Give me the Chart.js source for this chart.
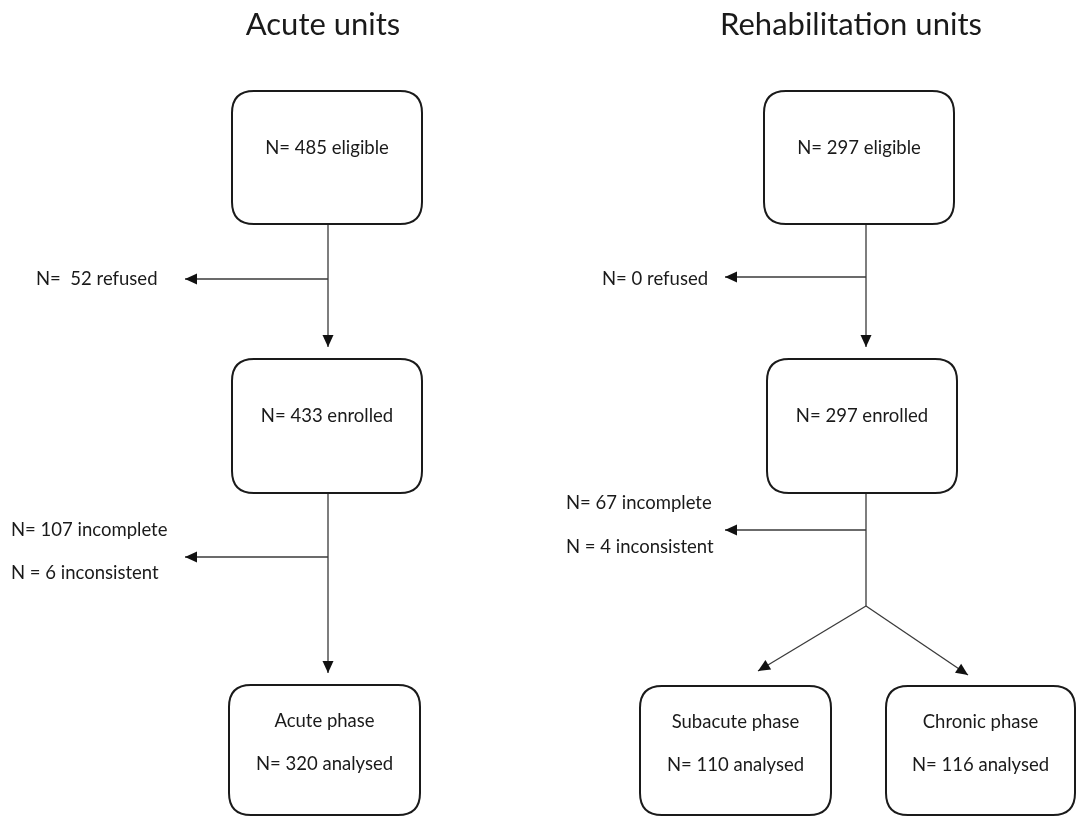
<!DOCTYPE html>
<html>
<head>
<meta charset="utf-8">
<script src="https://cdn.jsdelivr.net/npm/chart.js@4.4.1/dist/chart.umd.min.js"></script>
<style>
  body { margin: 0; background: #fff; }
  canvas { display: block; }
</style>
</head>
<body>
<canvas id="flow" width="1091" height="817"></canvas>
<script>
// column titles
const titles = ['Acute units', 'Rehabilitation units'];
const titleX = [323, 851];
const titleY = [25, 25];

// boxes of the flow chart (diagram units = pixels of the reference)
const boxLabels = [
  ['N= 485 eligible'],
  ['N= 433 enrolled'],
  ['Acute phase', 'N= 320 analysed'],
  ['N= 297 eligible'],
  ['N= 297 enrolled'],
  ['Subacute phase', 'N= 110 analysed'],
  ['Chronic phase', 'N= 116 analysed']
];
const boxLeft   = [232, 232, 229, 764, 767, 640, 886];
const boxRight  = [422, 422, 420, 954, 957, 831, 1075];
const boxTop    = [91, 359, 685, 91, 359, 686, 686];
const boxBottom = [224, 493, 815, 224, 493, 815, 815];

// connectors: start and end point, and whether the end has an arrow head
const linkX1 = [328, 328, 328, 328, 866, 866, 866, 866, 866, 866];
const linkY1 = [224, 279, 493, 557, 224, 277, 493, 530, 606, 606];
const linkX2 = [328, 185, 328, 185, 866, 725, 866, 725, 758, 968];
const linkY2 = [347, 279, 673, 557, 347, 277, 606, 530, 671, 675];
const linkArrow = [true, true, true, true, true, true, false, true, true, true];

// side notes for excluded people
const noteText = ['N=  52 refused', 'N= 107 incomplete', 'N = 6 inconsistent',
                  'N= 0 refused', 'N= 67 incomplete', 'N = 4 inconsistent'];
const noteX = [36, 11, 11, 602, 566, 566];
const noteY = [279, 530, 573, 279, 503, 547];

const FONT = 'Lato, "Open Sans", sans-serif';
const ink = '#1a1a1a';

const datasets = linkX1.map((x, i) => ({
  data: [{ x: x, y: linkY1[i] }, { x: linkX2[i], y: linkY2[i] }],
  showLine: true,
  borderColor: '#3a3a3a',
  borderWidth: 1.3,
  pointRadius: 0,
  pointHoverRadius: 0
}));

function roundRect(ctx, x, y, w, h, r) {
  ctx.beginPath();
  ctx.moveTo(x + r, y);
  ctx.lineTo(x + w - r, y);
  ctx.quadraticCurveTo(x + w, y, x + w, y + r);
  ctx.lineTo(x + w, y + h - r);
  ctx.quadraticCurveTo(x + w, y + h, x + w - r, y + h);
  ctx.lineTo(x + r, y + h);
  ctx.quadraticCurveTo(x, y + h, x, y + h - r);
  ctx.lineTo(x, y + r);
  ctx.quadraticCurveTo(x, y, x + r, y);
  ctx.closePath();
}

const flowPlugin = {
  id: 'flowPlugin',
  afterDatasetsDraw(chart) {
    const ctx = chart.ctx;
    const sx = chart.scales.x, sy = chart.scales.y;
    ctx.save();

    // arrow heads
    ctx.fillStyle = '#111';
    linkX1.forEach((x, i) => {
      if (!linkArrow[i]) return;
      const px1 = sx.getPixelForValue(x), py1 = sy.getPixelForValue(linkY1[i]);
      const px2 = sx.getPixelForValue(linkX2[i]), py2 = sy.getPixelForValue(linkY2[i]);
      const a = Math.atan2(py2 - py1, px2 - px1);
      const len = 12, half = 5.5;
      ctx.beginPath();
      ctx.moveTo(px2, py2);
      ctx.lineTo(px2 - len * Math.cos(a) + half * Math.sin(a), py2 - len * Math.sin(a) - half * Math.cos(a));
      ctx.lineTo(px2 - len * Math.cos(a) - half * Math.sin(a), py2 - len * Math.sin(a) + half * Math.cos(a));
      ctx.closePath();
      ctx.fill();
    });

    // boxes
    ctx.strokeStyle = ink;
    ctx.lineWidth = 2;
    ctx.fillStyle = '#fff';
    boxLabels.forEach((lines, i) => {
      const l = sx.getPixelForValue(boxLeft[i]), r = sx.getPixelForValue(boxRight[i]);
      const t = sy.getPixelForValue(boxTop[i]), b = sy.getPixelForValue(boxBottom[i]);
      roundRect(ctx, l, t, r - l, b - t, 22);
      ctx.fill();
      ctx.stroke();
    });

    // box texts
    ctx.fillStyle = ink;
    ctx.font = '18.5px ' + FONT;
    ctx.textAlign = 'center';
    ctx.textBaseline = 'middle';
    boxLabels.forEach((lines, i) => {
      const cx = (sx.getPixelForValue(boxLeft[i]) + sx.getPixelForValue(boxRight[i])) / 2;
      const t = sy.getPixelForValue(boxTop[i]);
      if (lines.length === 1) {
        ctx.fillText(lines[0], cx, t + 57);
      } else {
        ctx.fillText(lines[0], cx, t + 36);
        ctx.fillText(lines[1], cx, t + 79);
      }
    });

    // side notes
    ctx.textAlign = 'left';
    noteText.forEach((s, i) => {
      ctx.fillText(s, sx.getPixelForValue(noteX[i]), sy.getPixelForValue(noteY[i]));
    });

    // titles
    ctx.font = '31px ' + FONT;
    ctx.textAlign = 'center';
    titles.forEach((s, i) => {
      ctx.fillText(s, sx.getPixelForValue(titleX[i]), sy.getPixelForValue(titleY[i]));
    });
    ctx.restore();
  }
};

new Chart(document.getElementById('flow'), {
  type: 'scatter',
  data: { datasets: datasets },
  options: {
    responsive: false,
    animation: false,
    layout: { padding: 0 },
    plugins: { legend: { display: false }, tooltip: { enabled: false } },
    events: [],
    scales: {
      x: { type: 'linear', min: 0, max: 1091, display: false },
      y: { type: 'linear', min: 0, max: 817, reverse: true, display: false }
    }
  },
  plugins: [flowPlugin]
});
</script>
</body>
</html>
